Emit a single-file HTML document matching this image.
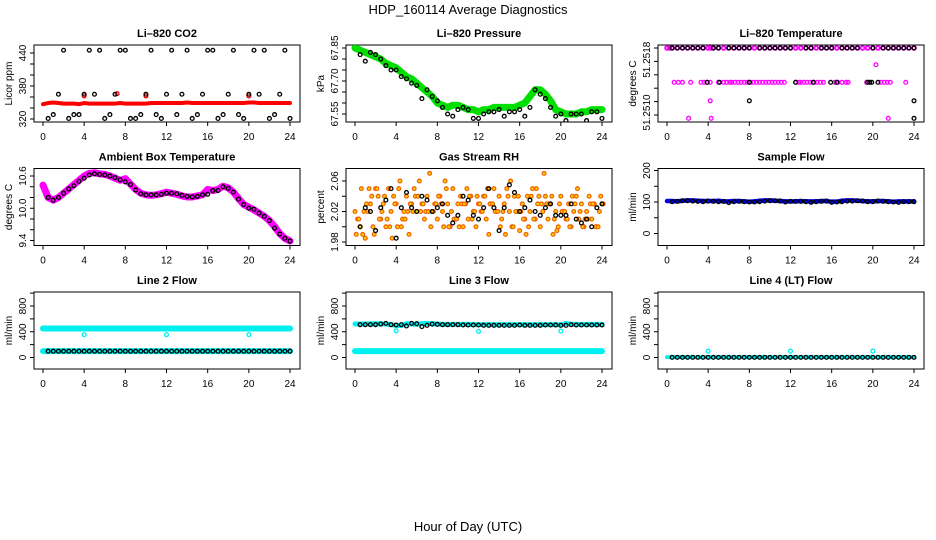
<!DOCTYPE html>
<html><head><meta charset="utf-8"><style>
html,body{margin:0;padding:0;background:#fff;}
svg{display:block;font-family:"Liberation Sans",sans-serif;}
</style></head><body>
<svg id="chart" width="936" height="540" viewBox="0 0 936 540" xmlns="http://www.w3.org/2000/svg">
<text x="468" y="14" text-anchor="middle" font-size="13">HDP_160114  Average Diagnostics</text>
<text x="468" y="531" text-anchor="middle" font-size="13">Hour of Day (UTC)</text>
</svg>
<script>
// ---------- data ----------
const hoursHalf = [0,0.5,1,1.5,2,2.5,3,3.5,4,4.5,5,5.5,6,6.5,7,7.5,8,8.5,9,9.5,10,10.5,11,11.5,12,12.5,13,13.5,14,14.5,15,15.5,16,16.5,17,17.5,18,18.5,19,19.5,20,20.5,21,21.5,22,22.5,23,23.5,24];
const hoursBlack = hoursHalf.slice(1);
const xTicks = [0,4,8,12,16,20,24];

const co2Red = [347,349,350,349,348,348,348,347,349,348,348,348,348,348,348,349,348,348,348,348,348,349,349,349,349,349,349,349,350,349,349,349,349,349,349,349,349,349,349,349,350,350,349,349,349,349,349,349,349];
const co2RedExtra = [[4,362],[7.2,366],[10,362],[20,362]];
const co2Black = [321,328,365,445,321,328,328,365,445,365,445,321,328,365,445,445,321,321,328,365,445,328,321,365,445,328,365,445,321,328,365,445,445,321,328,365,445,328,321,365,445,365,445,321,328,365,445,321];

const presGreen = [67.85,67.84,67.83,67.82,67.81,67.80,67.78,67.77,67.76,67.74,67.72,67.71,67.69,67.67,67.65,67.63,67.60,67.59,67.58,67.59,67.59,67.58,67.57,67.57,67.56,67.57,67.57,67.58,67.58,67.58,67.58,67.58,67.59,67.60,67.63,67.66,67.66,67.64,67.61,67.57,67.56,67.55,67.55,67.55,67.56,67.56,67.57,67.57,67.57];
const presBlack = [67.82,67.79,67.83,67.82,67.80,67.77,67.75,67.75,67.72,67.71,67.69,67.68,67.62,67.66,67.63,67.61,67.58,67.55,67.54,67.57,67.58,67.57,67.53,67.53,67.55,67.56,67.56,67.57,67.54,67.56,67.56,67.57,67.54,67.58,67.66,67.64,67.62,67.58,67.54,67.55,67.52,67.55,67.55,67.55,67.52,67.56,67.56,67.53];

const tempTop = 51.2518, tempMid = 51.25139;
const tempMagTop = [0,0.25,0.5,1,1.5,2,2.5,3,3.5,4,4.25,4.5,5,5.5,6,6.5,7,7.5,8,8.5,9,9.5,10,10.5,11,11.5,12,12.5,13,13.5,14,14.5,15,15.5,16,16.5,17,17.5,18,18.5,19,19.5,20,20.5,21,21.5,22,22.5,23,23.5,24];
const tempMagMid = [0.7,1.1,1.5,2.3,3.3,3.6,3.9,4.2,5.0,5.5,5.8,6.1,6.3,6.6,6.9,7.2,7.5,7.8,8.1,8.4,8.7,9.0,9.3,9.6,9.9,10.2,10.5,10.8,11.1,11.4,12.5,12.8,13.0,13.3,13.6,13.9,14.3,14.6,14.9,15.2,16.3,16.6,17.0,17.4,17.6,19.4,20.8,21.1,21.4,21.7,23.2];
const tempMagOther = [[2.1,51.25096],[4.2,51.25117],[4.3,51.25096],[20.3,51.2516],[21.5,51.25096]];
const tempBlackTop = [0.5,1,1.5,2,2.5,3,3.5,4.5,5,6,6.5,7,7.5,8,9,9.5,10,10.5,11,11.5,12,13.5,14,15,15.5,16,17,17.5,18,18.5,20,21,21.5,22,22.5,23,23.5,24];
const tempBlackMid = [[3.9,51.25139],[5.1,51.25139],[8,51.25139],[12.5,51.25139],[14.2,51.25139],[15.9,51.25139],[16.5,51.25139],[19.5,51.25139],[19.9,51.25139],[20.5,51.25139],[8,51.25117],[24,51.25117],[24,51.25096],[19.7,51.25139]];

const ambMag = [10.43,10.2,10.15,10.2,10.28,10.36,10.44,10.52,10.6,10.65,10.66,10.64,10.63,10.6,10.56,10.52,10.55,10.45,10.35,10.28,10.25,10.24,10.25,10.27,10.3,10.28,10.26,10.23,10.21,10.21,10.23,10.25,10.35,10.33,10.35,10.41,10.38,10.3,10.18,10.07,10.02,9.97,9.91,9.85,9.77,9.66,9.53,9.44,9.39];
const ambBlack = [10.2,10.15,10.2,10.28,10.36,10.42,10.5,10.56,10.62,10.64,10.63,10.62,10.6,10.57,10.53,10.49,10.44,10.34,10.27,10.25,10.25,10.25,10.26,10.28,10.28,10.27,10.24,10.22,10.21,10.22,10.25,10.26,10.33,10.33,10.4,10.37,10.3,10.17,10.07,10.0,9.98,9.91,9.85,9.77,9.63,9.52,9.44,9.39];

const rhColored = [2.02,2.01,2.00,1.99,1.985,2.02,2.03,2.00,2.05,2.04,2.01,2.03,2.00,2.05,2.02,2.04,2.03,2.05,2.00,2.02,2.04,1.99,2.03,2.05,2.02,2.06,2.03,2.01,2.04,2.07,2.02,2.03,2.01,2.04,2.02,2.06,2.03,2.00,2.05,2.01,2.03,2.04,2.00,2.03,2.01,2.04,2.02,2.00,2.03,2.02,2.04,2.01,1.99,2.03,2.05,2.02,2.04,2.01,2.03,2.05,2.02,2.00,2.04,2.02,1.995,2.03,2.01,2.04,2.02,2.05,2.01,2.03,2.00,2.02,2.04,2.01,2.03,1.99,2.02,2.00,2.04,2.02,2.01,2.03,2.00,2.02,2.04,2.01,2.03,2.00,2.02,2.04,2.01,2.03,2.00,2.02,2.03];
const rhBlack = [2.00,2.025,2.02,1.995,2.025,2.035,2.05,1.985,2.025,2.045,2.025,2.02,2.04,2.035,2.02,2.025,2.03,2.015,2.005,2.015,2.04,2.035,2.015,2.01,2.025,2.05,2.025,1.995,2.025,2.055,2.045,2.02,2.025,2.035,2.02,2.015,2.025,2.03,2.015,2.015,2.015,2.03,2.01,2.005,2.01,2.0,2.025,2.03];

const sampleBlue = [103,103,102,104,105,105,104,103,103,103,104,102,102,103,103,102,101,102,104,105,105,104,103,102,102,102,103,102,102,102,103,103,101,101,104,105,105,104,103,102,102,103,103,102,101,102,102,102,102];
const sampleBlack = [101,102,104,104,103,102,101,103,102,101,102,98,101,102,101,100,100,101,103,104,104,103,100,102,102,102,101,99,101,102,103,99,100,101,103,103,104,103,101,101,103,102,101,100,99,101,101,101];

const line2CyanHigh = [450,450,450,450,450,450,450,450,450,450,450,450,450,450,450,450,450,450,450,450,450,450,450,450,450,450,450,450,450,450,450,450,450,450,450,450,450,450,450,450,450,450,450,450,450,450,450,450,450];
const line2CyanLow = [100,100,100,100,100,100,100,100,100,100,100,100,100,100,100,100,100,100,100,100,100,100,100,100,100,100,100,100,100,100,100,100,100,100,100,100,100,100,100,100,100,100,100,100,100,100,100,100,100];
const line2Outliers = [[4,355],[12,355],[20,355]];
const line2Black = [98,98,98,98,98,98,98,98,98,98,98,98,98,98,98,98,98,98,98,98,98,98,98,98,98,98,98,98,98,98,98,98,98,98,98,98,98,98,98,98,98,98,98,98,98,98,98,98];

const line3CyanHigh = [520,520,520,525,525,525,520,510,500,495,525,520,515,525,530,525,520,515,515,515,515,515,515,510,510,510,510,510,510,510,510,510,510,510,510,510,510,510,510,510,505,530,515,515,515,515,515,515,515];
const line3CyanLow = [100,100,100,100,100,100,100,100,100,100,100,100,100,100,100,100,100,100,100,100,100,100,100,100,100,100,100,100,100,100,100,100,100,100,100,100,100,100,100,100,100,100,100,100,100,100,100,100,100];
const line3Outliers = [[4,415],[12,405],[20,410]];
const line3Black = [510,510,510,510,520,530,510,505,510,490,530,525,480,500,520,515,510,510,510,510,505,505,505,505,500,500,500,500,500,500,500,505,500,500,500,500,505,505,505,500,500,510,505,505,505,505,505,505];

const line4Cyan = [5,5,5,5,5,5,5,5,5,5,5,5,5,5,5,5,5,5,5,5,5,5,5,5,5,5,5,5,5,5,5,5,5,5,5,5,5,5,5,5,5,5,5,5,5,5,5,5,5];
const line4Outliers = [[4,100],[12,100],[20,100]];
const line4Black = [2,2,2,2,2,2,2,2,2,2,2,2,2,2,2,2,2,2,2,2,2,2,2,2,2,2,2,2,2,2,2,2,2,2,2,2,2,2,2,2,2,2,2,2,2,2,2,2];

// ---------- drawing ----------
const NS = "http://www.w3.org/2000/svg";
const svg = document.getElementById('chart');
function mk(tag, attrs, parent){
  const e = document.createElementNS(NS, tag);
  for (const k in attrs) e.setAttribute(k, attrs[k]);
  (parent||svg).appendChild(e);
  return e;
}
function panel(col,row,opt){
  const L = 34 + col*312, R = 300 + col*312;
  const T = 45 + row*123.5, B = 122 + row*123.5;
  const g = mk('g',{});
  
  
  const x = h => L + 9 + h*(247/24);
  const y = v => opt.yPix0 + row*123.5 + (v - opt.yVal0)*(opt.yPix1 - opt.yPix0)/(opt.yVal1 - opt.yVal0);
  const box = mk('rect',{x:L,y:T,width:R-L,height:B-T,fill:'none',stroke:'#000','stroke-width':1},g);
  
  
  const t = mk('text',{x:(L+R)/2,y:T-8,'text-anchor':'middle','font-size':11,'font-weight':'bold'},g);
  t.textContent = opt.title;
  
  
  const xa = mk('g',{},g);
  
  
  mk('line',{x1:x(xTicks[0]),x2:x(xTicks[xTicks.length-1]),y1:B,y2:B,stroke:'#000'},xa);
  xTicks.forEach(v=>{
    mk('line',{x1:x(v),x2:x(v),y1:B,y2:B+4,stroke:'#000'},xa);
    const tl = mk('text',{x:x(v),y:B+18,'text-anchor':'middle','font-size':10},xa);
    tl.textContent = v;
    
    
  });
  const ya = mk('g',{},g);
  
  
  mk('line',{x1:L,x2:L,y1:y(opt.yTicks[0]),y2:y(opt.yTicks[opt.yTicks.length-1]),stroke:'#000'},ya);
  opt.yTicks.forEach(v=>mk('line',{x1:L-4,x2:L,y1:y(v),y2:y(v),stroke:'#000'},ya));
  opt.yLabels.forEach(([v,s])=>{
    const tl = mk('text',{transform:`translate(${L-8},${y(v)}) rotate(-90)`,'text-anchor':'middle','font-size':10},ya);
    tl.textContent = s;
    
    
  });
  const yl = mk('text',{transform:`translate(${L-22},${(T+B)/2}) rotate(-90)`,'text-anchor':'middle','font-size':10},ya);
  yl.textContent = opt.ylab;
  
  
  const clipId = 'c'+col+'_'+row;
  const cp = mk('clipPath',{id:clipId},g);
  mk('rect',{x:L,y:T,width:R-L,height:B-T},cp);
  const pg = mk('g',{'clip-path':`url(#${clipId})`},g);
  return {x,y,g:pg};
}
function band(P,xs,vals,color,w,name){
  const pts = xs.map((h,i)=>P.x(h)+','+P.y(vals[i])).join(' ');
  const pl = mk('polyline',{points:pts,fill:'none',stroke:color,'stroke-width':w,'stroke-linejoin':'round','stroke-linecap':'round'},P.g);
  
  
}
function pts(P,xs,vals,color,r,sw,name,fill){
  const gg = mk('g',{},P.g);
  
  
  xs.forEach((h,i)=>{
    const c = mk('circle',{cx:P.x(h),cy:P.y(vals[i]),r:r,fill:fill||'none',stroke:color,'stroke-width':sw},gg);
    
    
  });
}
function pairs(P,arr,color,r,sw,name){
  pts(P,arr.map(a=>a[0]),arr.map(a=>a[1]),color,r,sw,name);
}
const R0 = 1.9, SW = 1.3;

let P = panel(0,0,{name:'panel-co2',title:'Li\u2013820 CO2',ylab:'Licor ppm',yVal0:320,yPix0:119,yVal1:440,yPix1:53,
  yTicks:[320,340,360,380,400,420,440],yLabels:[[320,'320'],[380,'380'],[440,'440']]});
band(P,hoursHalf,co2Red,'#ff0000',4,'co2-red-band');
pairs(P,co2RedExtra,'#ff0000',R0,SW,'co2-red-outliers');
pts(P,hoursBlack,co2Black,'#000',R0,SW,'co2-black-points');

P = panel(1,0,{name:'panel-pressure',title:'Li\u2013820 Pressure',ylab:'kPa',yVal0:67.55,yPix0:114,yVal1:67.85,yPix1:48,
  yTicks:[67.55,67.60,67.65,67.70,67.75,67.80,67.85],yLabels:[[67.55,'67.55'],[67.70,'67.70'],[67.85,'67.85']]});
band(P,hoursHalf,presGreen,'#00e000',7,'pressure-green-band');
pts(P,hoursBlack,presBlack,'#000',R0,SW,'pressure-black-points');

P = panel(2,0,{name:'panel-li820-temp',title:'Li\u2013820 Temperature',ylab:'degrees C',yVal0:51.2510,yPix0:115,yVal1:51.2518,yPix1:48,
  yTicks:[51.2510,51.25116,51.25132,51.25148,51.25164,51.2518],yLabels:[[51.25103,'51.2510'],[51.25166,'51.2518']]});
pts(P,tempMagTop,tempMagTop.map(()=>tempTop),'#ff00ff',R0,1.8,'temp-magenta-top');
pts(P,tempMagMid,tempMagMid.map(()=>tempMid),'#ff00ff',R0,SW,'temp-magenta-mid');
pairs(P,tempMagOther,'#ff00ff',R0,SW,'temp-magenta-outliers');
pts(P,tempBlackTop,tempBlackTop.map(()=>tempTop),'#000',R0,SW,'temp-black-top');
pairs(P,tempBlackMid,'#000',R0,SW,'temp-black-other');

P = panel(0,1,{name:'panel-ambient-temp',title:'Ambient Box Temperature',ylab:'degrees C',yVal0:9.4,yPix0:117,yVal1:10.6,yPix1:52.5,
  yTicks:[9.4,9.6,9.8,10.0,10.2,10.4,10.6],yLabels:[[9.4,'9.4'],[10.0,'10.0'],[10.6,'10.6']]});
band(P,hoursHalf,ambMag,'#ff00ff',7,'ambient-magenta-band');
pts(P,hoursBlack,ambBlack,'#000',R0,SW,'ambient-black-points');

P = panel(1,1,{name:'panel-rh',title:'Gas Stream RH',ylab:'percent',yVal0:1.98,yPix0:118.5,yVal1:2.06,yPix1:57.5,
  yTicks:[1.98,2.00,2.02,2.04,2.06],yLabels:[[1.98,'1.98'],[2.02,'2.02'],[2.06,'2.06']]});
const hq = rhColored.map((_,i)=>i*0.25);
pts(P,hq,rhColored,'#f06000',R0,1.2,'rh-orange-points','#ffd000');
pts(P,hq.map(h=>h+0.12),rhColored.map((v,i)=>rhColored[(i*7+3)%rhColored.length]),'#f06000',R0,1.2,'rh-orange-points-b','#ffd000');
pts(P,hoursBlack,rhBlack,'#000',R0,SW,'rh-black-points');

P = panel(2,1,{name:'panel-sample-flow',title:'Sample Flow',ylab:'ml/min',yVal0:0,yPix0:110,yVal1:200,yPix1:47,
  yTicks:[0,50,100,150,200],yLabels:[[0,'0'],[100,'100'],[200,'200']]});
band(P,hoursHalf,sampleBlue,'#0000ff',4.5,'sample-blue-band');
pts(P,hoursBlack,sampleBlack,'#000',R0,SW,'sample-black-points');

const flowAxis = {yVal0:0,yPix0:110.5,yVal1:800,yPix1:59,yTicks:[0,200,400,600,800,1000],yLabels:[[0,'0'],[400,'400'],[800,'800']],ylab:'ml/min'};
P = panel(0,2,Object.assign({name:'panel-line2-flow',title:'Line 2 Flow'},flowAxis));
band(P,hoursHalf,line2CyanHigh,'#00f0f0',6,'line2-cyan-high');
band(P,hoursHalf,line2CyanLow,'#00f0f0',6,'line2-cyan-low');
pairs(P,line2Outliers,'#00f0f0',R0,SW,'line2-cyan-outliers');
pts(P,hoursBlack,line2Black,'#000',R0,SW,'line2-black-points');

P = panel(1,2,Object.assign({name:'panel-line3-flow',title:'Line 3 Flow'},flowAxis));
band(P,hoursHalf,line3CyanHigh,'#00f0f0',5,'line3-cyan-high');
band(P,hoursHalf,line3CyanLow,'#00f0f0',6,'line3-cyan-low');
pairs(P,line3Outliers,'#00f0f0',R0,SW,'line3-cyan-outliers');
pts(P,hoursBlack,line3Black,'#000',R0,SW,'line3-black-points');

P = panel(2,2,Object.assign({name:'panel-line4-flow',title:'Line 4 (LT) Flow'},flowAxis));
band(P,hoursHalf,line4Cyan,'#00f0f0',4,'line4-cyan');
pairs(P,line4Outliers,'#00f0f0',R0,SW,'line4-cyan-outliers');
pts(P,hoursBlack,line4Black,'#000',R0,SW,'line4-black-points');
</script>
</body></html>
